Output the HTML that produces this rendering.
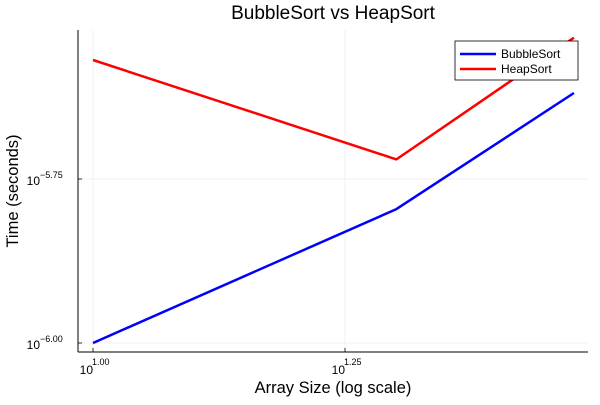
<!DOCTYPE html>
<html><head><meta charset="utf-8"><style>
body{margin:0;background:#fff;}
svg text{font-family:"Liberation Sans","DejaVu Sans",sans-serif;fill:#000;}
</style></head><body>
<svg width="600" height="400" xmlns="http://www.w3.org/2000/svg">
<defs><clipPath id="clip"><rect x="78" y="30" width="510" height="322"/></clipPath></defs>
<text x="333" y="19" font-size="19" text-anchor="middle">BubbleSort vs HeapSort</text>
<g id="grid"></g>
<line x1="78" y1="30" x2="78" y2="352" stroke="#000" stroke-width="1"/>
<line x1="78" y1="352" x2="588" y2="352" stroke="#000" stroke-width="1"/>
<g id="ticks"></g>
<g id="series" clip-path="url(#clip)"></g>
<text x="333" y="393" font-size="16.5" text-anchor="middle">Array Size (log scale)</text>
<text transform="translate(18,191) rotate(-90)" font-size="16.5" text-anchor="middle">Time (seconds)</text>
<g>
<rect x="455" y="41" width="123" height="39" fill="#fff" stroke="#000" stroke-width="0.8"/>
<g><line x1="460" y1="54" x2="496" y2="54" stroke="#0000ff" stroke-width="2.5"/><text x="501" y="58" font-size="12">BubbleSort</text></g>
<g><line x1="460" y1="69" x2="496" y2="69" stroke="#ff0000" stroke-width="2.5"/><text x="501" y="73" font-size="12">HeapSort</text></g>
</g>
</svg>
<script>
const sizes = [10, 20, 30];
const bubbleTimes = [1.0e-6, 1.6e-6, 2.405e-6];
const heapTimes = [2.7e-6, 1.905e-6, 2.92e-6];
const xTickExps = [1.00, 1.25];
const yTickExps = [-6.00, -5.75];
const xTickLabels = ["1.00", "1.25"];
const yTickLabels = ["\u22126.00", "\u22125.75"];

const NS = "http://www.w3.org/2000/svg";
function xs(v){ return 93 + (Math.log10(v) - 1.0) * 1008; }
function ys(v){ return 343 - (Math.log10(v) + 6.0) * 656; }
function xe(e){ return 93 + (e - 1.0) * 1008; }
function ye(e){ return 343 - (e + 6.0) * 656; }
function mk(tag, attrs){ const el = document.createElementNS(NS, tag); for (const k in attrs) el.setAttribute(k, attrs[k]); return el; }

const grid = document.getElementById('grid');
const ticks = document.getElementById('ticks');
xTickExps.forEach((e, i) => {
  const x = xe(e);
  const g = mk('line', {x1:x, y1:30, x2:x, y2:352, stroke:'#000', 'stroke-opacity':0.1, 'stroke-width':0.5});
  
  
  grid.appendChild(g);
  const t = mk('line', {x1:x, y1:352, x2:x, y2:348, stroke:'#000', 'stroke-width':0.8});
  
  
  ticks.appendChild(t);
  const lb = mk('text', {x:x, y:374, 'font-size':12, 'text-anchor':'end'});
  lb.textContent = '10';
  
  
  ticks.appendChild(lb);
  const sup = mk('text', {x:x - 1, y:365, 'font-size':9});
  sup.textContent = xTickLabels[i];
  
  
  ticks.appendChild(sup);
});
yTickExps.forEach((e, i) => {
  const y = ye(e);
  const g = mk('line', {x1:78, y1:y, x2:588, y2:y, stroke:'#000', 'stroke-opacity':0.1, 'stroke-width':0.5});
  
  
  grid.appendChild(g);
  const t = mk('line', {x1:78, y1:y, x2:82, y2:y, stroke:'#000', 'stroke-width':0.8});
  
  
  ticks.appendChild(t);
  const lb = mk('text', {x:40, y:y + 6, 'font-size':12, 'text-anchor':'end'});
  lb.textContent = '10';
  
  
  ticks.appendChild(lb);
  const sup = mk('text', {x:40, y:y - 1, 'font-size':9});
  sup.textContent = yTickLabels[i];
  
  
  ticks.appendChild(sup);
});
const series = document.getElementById('series');
function line(vals, color, name){
  const pts = sizes.map((s, i) => xs(s).toFixed(1) + ',' + ys(vals[i]).toFixed(1)).join(' ');
  const p = mk('polyline', {points:pts, fill:'none', stroke:color, 'stroke-width':2.5, 'stroke-linejoin':'round'});
  
  
  series.appendChild(p);
}
line(bubbleTimes, '#0000ff', 'bubblesort-line');
line(heapTimes, '#ff0000', 'heapsort-line');
</script>
</body></html>
